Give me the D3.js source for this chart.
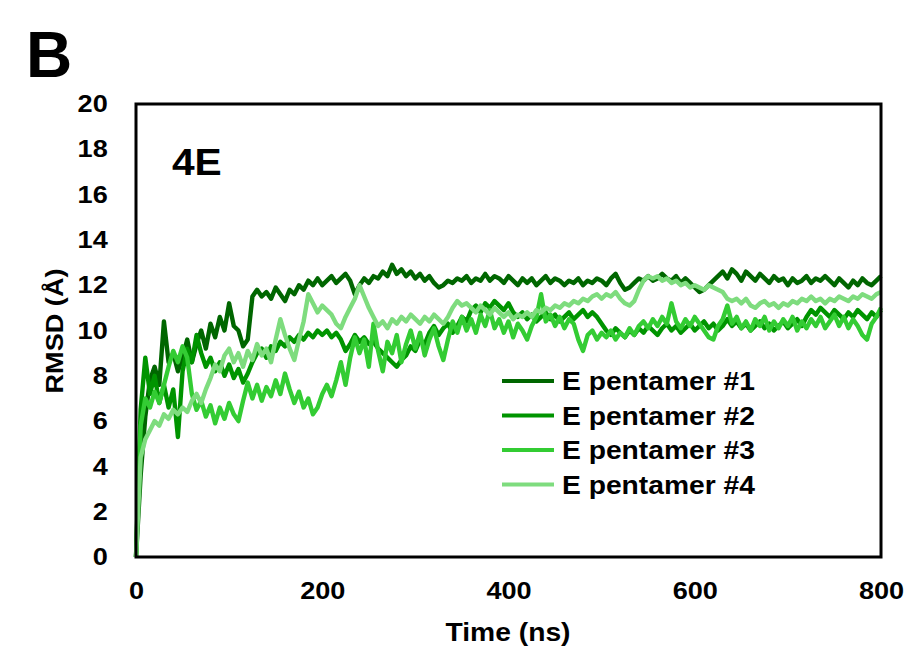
<!DOCTYPE html>
<html>
<head>
<meta charset="utf-8">
<script src="https://cdn.jsdelivr.net/npm/d3@7"></script>
<style>
  body { margin: 0; background: #fff; }
  svg text { font-family: "Liberation Sans", Arial, sans-serif; font-weight: bold; fill: #000; }
</style>
</head>
<body>
<svg width="913" height="652"></svg>
<script>
// sampled every 5 ns, 0..800
const step = 5;
const seriesNames = ['E pentamer #1', 'E pentamer #2', 'E pentamer #3', 'E pentamer #4'];
const seriesColors = ['#006600', '#009400', '#33cc33', '#7edc7e'];
const xTicks = [0, 200, 400, 600, 800];
const yTicks = [0, 2, 4, 6, 8, 10, 12, 14, 16, 18, 20];

const pent1 = [0, 3.6, 6.2, 7.8, 8.4, 7.6, 10.4, 8.6, 9.0, 8.2, 8.8, 9.6, 8.6, 9.4, 10.0, 9.2, 10.3, 9.7, 10.6, 10.0,
  11.2, 10.2, 10.0, 9.3, 9.6, 11.5, 11.8, 11.5, 11.7, 11.4, 11.9, 11.6, 11.3, 11.8, 11.6, 12.0, 11.8, 12.2, 12.0, 12.3,
  12.0, 12.2, 12.4, 12.1, 12.3, 12.5, 12.2, 11.6, 12.0, 12.3, 12.1, 12.4, 12.3, 12.6, 12.4, 12.9, 12.5, 12.7, 12.4, 12.6,
  12.3, 12.5, 12.2, 12.4, 12.1, 11.9, 12.0, 12.2, 12.1, 12.3, 12.2, 12.4, 12.1, 12.3, 12.2, 12.5, 12.2, 12.4, 12.3, 12.1,
  12.4, 12.2, 12.0, 12.3, 12.1, 12.3, 12.0, 12.2, 12.4, 12.1, 12.3, 12.2, 12.0, 12.2, 12.1, 12.3, 12.0, 12.2, 12.1, 12.3,
  12.2, 12.0, 12.3, 12.5, 12.1, 11.8, 11.9, 12.1, 12.3, 12.2, 12.4, 12.2, 12.3, 12.5, 12.3, 12.2, 12.4, 12.1, 12.3, 12.1,
  11.9, 11.7, 11.8, 12.0, 12.2, 12.4, 12.6, 12.3, 12.7, 12.5, 12.2, 12.6, 12.4, 12.2, 12.5, 12.3, 12.1, 12.4, 12.2, 12.3,
  12.0, 12.3, 12.1, 12.2, 12.4, 12.1, 12.3, 12.2, 12.4, 12.2, 12.0, 12.3, 12.1, 11.9, 12.2, 12.0, 12.3, 12.1, 12.0, 12.2,
  12.4];
const pent2 = [0, 6.5, 8.8, 7.2, 8.0, 6.8, 7.6, 6.6, 7.4, 5.3, 8.2, 9.2, 8.6, 9.8, 9.0, 8.4, 8.8, 8.2, 8.6, 8.0,
  8.5, 7.9, 8.3, 7.7, 8.1, 8.6, 9.0, 9.2, 8.8, 9.3, 9.1, 9.5, 9.3, 9.7, 9.5, 9.8, 9.6, 9.9, 9.7, 10.0,
  9.8, 10.0, 9.7, 9.9, 9.6, 9.1, 9.4, 9.8, 9.5, 9.7, 9.4, 9.5, 9.2, 9.0, 8.8, 8.6, 8.4, 8.7, 8.9, 9.3,
  9.1, 9.6, 9.4, 9.9, 10.2, 9.8, 10.1, 10.3, 9.9, 10.2, 10.6, 10.4, 10.9, 11.1, 10.8, 11.2, 11.0, 11.3, 11.1, 10.9,
  11.2, 10.8, 10.6, 10.8, 10.5, 10.7, 10.4, 10.6, 10.8, 10.5, 10.7, 10.4, 10.6, 10.8, 10.5, 10.7, 10.9, 10.6, 10.8, 10.6,
  10.3, 10.0, 9.8, 10.1, 9.9, 9.7, 10.0, 9.8, 10.1, 9.9, 10.2, 10.0, 9.8, 10.1, 10.3, 10.0, 10.2, 9.9, 10.1, 10.3,
  10.0, 10.2, 10.4, 10.1, 10.3, 10.0, 10.2, 10.5, 10.2, 10.4, 10.1, 10.3, 10.0, 10.2, 10.4, 10.1, 10.3, 10.0, 10.2, 10.4,
  10.1, 10.3, 10.5, 10.2, 10.6, 10.9, 10.7, 11.0, 10.8, 10.6, 10.9, 10.7, 10.5, 10.8, 10.6, 10.9, 10.7, 10.5, 10.8, 10.6,
  10.9];
const pent3 = [0, 5.8, 7.0, 6.6, 7.3, 6.8, 7.6, 8.4, 9.1, 8.6, 9.3, 8.8, 7.2, 6.5, 6.9, 6.2, 6.7, 5.9, 6.6, 6.1,
  6.8, 6.3, 6.0, 6.9, 7.7, 7.0, 7.6, 6.9, 7.5, 7.1, 7.8, 7.2, 8.1, 7.4, 6.8, 7.3, 6.6, 7.0, 6.3, 6.6,
  7.2, 7.6, 7.1, 7.8, 8.6, 7.6, 8.8, 9.7, 9.0, 9.6, 8.4, 10.3, 9.1, 8.2, 9.5, 9.0, 9.8, 8.6, 9.4, 10.0,
  9.2, 9.9, 8.9, 9.6, 10.1, 9.3, 8.7, 9.6, 10.4, 9.9, 10.6, 10.0, 10.5, 9.9, 10.7, 10.2, 10.9, 10.1, 10.5, 9.9,
  10.4, 9.7, 10.3, 10.0, 9.6, 10.2, 10.6, 11.6, 10.4, 10.7, 10.2, 10.6, 10.1, 10.5, 10.3, 9.6, 9.1, 9.8, 10.0, 9.6,
  9.9, 9.7, 10.0, 9.6, 9.9, 9.7, 10.1, 9.8, 10.2, 10.4, 10.1, 10.5, 10.2, 10.6, 10.3, 11.2, 10.4, 10.1, 10.5, 10.2,
  10.6, 10.3, 10.0, 9.7, 9.6, 10.2, 10.5, 11.1, 10.3, 10.6, 10.1, 10.4, 10.0, 10.5, 10.2, 10.6, 10.0, 10.4, 10.1, 10.5,
  10.2, 10.6, 10.0, 10.4, 10.1, 10.5, 10.2, 10.6, 10.1, 10.4, 10.7, 10.2, 10.6, 10.1, 10.5, 10.2, 9.8, 9.6, 10.3, 10.6,
  11.0];
const pent4 = [0, 4.4, 5.2, 5.6, 6.0, 5.8, 6.3, 6.1, 6.5, 6.3, 6.6, 6.4, 6.9, 7.2, 6.8, 7.4, 7.9, 8.5, 8.2, 8.9,
  9.2, 8.6, 9.0, 8.4, 9.1, 8.7, 9.4, 8.9, 9.2, 8.6, 9.6, 10.5, 9.8, 9.2, 8.7, 9.6, 10.4, 11.6, 11.2, 10.8,
  11.1, 10.9, 10.7, 10.3, 10.1, 10.6, 11.0, 11.4, 12.0, 11.5, 11.0, 10.6, 10.2, 10.4, 10.1, 10.5, 10.3, 10.6, 10.4, 10.7,
  10.5, 10.3, 10.6, 10.4, 10.7, 10.5, 10.3, 10.6, 11.0, 11.3, 11.1, 11.2, 11.0, 10.8, 11.1, 10.9, 10.7, 11.0, 10.8, 10.6,
  10.8, 10.5, 10.7, 10.6, 10.8, 10.6, 10.9, 10.8, 11.0, 10.9, 11.1, 11.0, 11.2, 11.1, 11.3, 11.2, 11.4, 11.3, 11.5, 11.6,
  11.4, 11.6, 11.5, 11.7, 11.4, 11.2, 11.1, 11.3, 11.8, 12.2, 12.4, 12.3, 12.4, 12.2, 12.3, 12.1, 12.2, 12.0, 12.1, 11.9,
  12.0, 11.9, 11.8, 12.0, 11.9, 11.8, 11.7, 11.4, 11.3, 11.4, 11.2, 11.4, 11.1, 11.0, 11.2, 11.3, 11.1, 11.2, 11.0, 11.2,
  11.1, 11.3, 11.2, 11.4, 11.3, 11.5, 11.3, 11.4, 11.2, 11.4, 11.3, 11.5, 11.4, 11.3, 11.5, 11.4, 11.6, 11.5, 11.4, 11.6,
  11.7];

const allSeries = [pent1, pent2, pent3, pent4];

const svg = d3.select('svg');
const plotLeft = 136, plotRight = 881, plotTop = 104, plotBottom = 557;
const stretch = 'scale(1.13,1)';

const x = d3.scaleLinear().domain([0, 800]).range([plotLeft, plotRight]);
const y = d3.scaleLinear().domain([0, 20]).range([plotBottom, plotTop]);

// panel letter
svg.append('text').attr('x', 26).attr('y', 77).style('font-size', '64px').text('B');

// lines
const line = d3.line()
  .x((d, i) => x(i * step))
  .y(d => y(d));

svg.append('g').selectAll('path')
  .data(allSeries)
  .join('path')
  .attr('d', line)
  .attr('fill', 'none')
  .attr('stroke', (d, i) => seriesColors[i])
  .attr('stroke-width', 4.4)
  .attr('stroke-linejoin', 'round');

// frame
svg.append('rect')
  .attr('x', plotLeft).attr('y', plotTop)
  .attr('width', plotRight - plotLeft).attr('height', plotBottom - plotTop)
  .attr('fill', 'none').attr('stroke', '#000').attr('stroke-width', 3);

// axes
const yAxis = svg.append('g')
  .attr('transform', `translate(${plotLeft},0)`)
  .call(d3.axisLeft(y).tickValues(yTicks).tickSize(0).tickPadding(25));
yAxis.select('.domain').remove();
yAxis.selectAll('text').attr('transform', stretch).style('font-size', '24px').attr('font-family', null);

const xAxis = svg.append('g')
  .attr('transform', `translate(0,${plotBottom})`)
  .call(d3.axisBottom(x).tickValues(xTicks).tickSize(0).tickPadding(25));
xAxis.select('.domain').remove();
xAxis.selectAll('text').attr('transform', stretch).style('font-size', '24px').attr('font-family', null);

// axis titles
svg.append('text')
  .attr('transform', `translate(508,641) ${stretch}`)
  .attr('text-anchor', 'middle')
  .style('font-size', '25px')
  .text('Time (ns)');

svg.append('text')
  .attr('transform', `translate(63,331) rotate(-90) ${stretch}`)
  .attr('text-anchor', 'middle')
  .style('font-size', '24px')
  .text('RMSD (Å)');

// 4E label
svg.append('text')
  .attr('transform', `translate(172,175) scale(1.1,1)`)
  .style('font-size', '37px')
  .text('4E');

// legend
const legend = svg.append('g').selectAll('g')
  .data(seriesNames)
  .join('g')
  .attr('transform', (d, i) => `translate(502,${381 + i * 34.5})`);

legend.append('line')
  .attr('x1', 0).attr('x2', 52)
  .attr('stroke', (d, i) => seriesColors[i])
  .attr('stroke-width', 4);

legend.append('text')
  .attr('transform', `translate(60,9) ${stretch}`)
  .style('font-size', '25px')
  .text(d => d);
</script>
</body>
</html>
